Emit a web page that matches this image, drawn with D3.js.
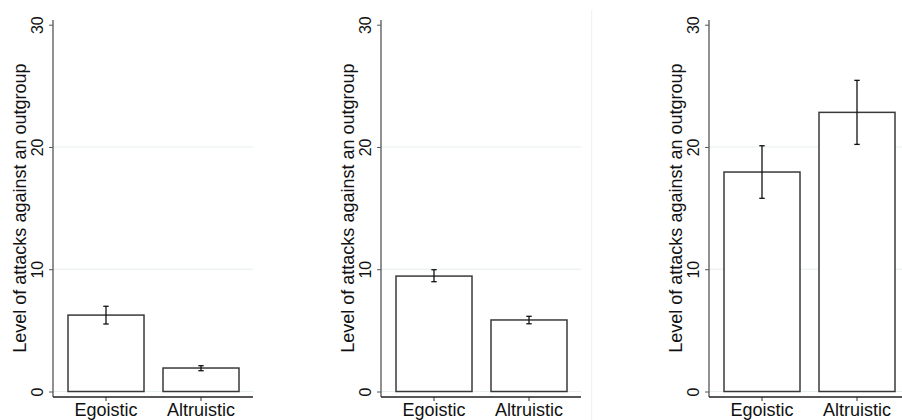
<!DOCTYPE html>
<html><head><meta charset="utf-8">
<script src="https://cdn.jsdelivr.net/npm/d3@7"></script>
<style>body{margin:0;background:#fff}svg{display:block}text{font-family:"Liberation Sans",Arial,Helvetica,sans-serif}</style>
</head><body>
<svg id="chart" width="902" height="420"></svg>
<script>
const categories = ["Egoistic", "Altruistic"];
const panel1Mean = [6.25, 1.92];
const panel1Low  = [5.52, 1.70];
const panel1High = [6.97, 2.11];
const panel2Mean = [9.44, 5.85];
const panel2Low  = [8.98, 5.54];
const panel2High = [9.96, 6.15];
const panel3Mean = [17.95, 22.83];
const panel3Low  = [15.80, 20.21];
const panel3High = [20.10, 25.45];
const yTicks = [0, 10, 20, 30];
const gridTicks = [0, 10, 20];
const yTitle = "Level of attacks against an outgroup";

const panels = [
  {mean: panel1Mean, low: panel1Low, high: panel1High},
  {mean: panel2Mean, low: panel2Low, high: panel2High},
  {mean: panel3Mean, low: panel3Low, high: panel3High}
];

const svg = d3.select("#chart");
const axisXs = [53, 381, 709];
const plotW = 200;
const y = d3.scaleLinear().domain([0, 30]).range([391.5, 24.7]);
const xAxisY = 397;

// faint separator
svg.append("line").attr("x1", 591.7).attr("x2", 591.7).attr("y1", 10).attr("y2", 420)
  .attr("stroke", "#eef0f0").attr("stroke-width", 1);

panels.forEach((p, i) => {
  const ax = axisXs[i];
  const g = svg.append("g");
  const x = d3.scaleBand().domain(categories).range([ax + 15, ax + 186]).paddingInner(0.2).paddingOuter(0);

  // gridlines
  g.selectAll("line.grid").data(gridTicks).join("line")
    .attr("x1", ax).attr("x2", ax + plotW)
    .attr("y1", d => y(d)).attr("y2", d => y(d))
    .attr("stroke", "#e6eeee").attr("stroke-width", 1);

  // bars
  g.selectAll("rect.bar").data(p.mean).join("rect")
    .attr("x", (d, j) => x(categories[j]))
    .attr("width", x.bandwidth())
    .attr("y", d => y(d))
    .attr("height", d => y(0) - y(d))
    .attr("fill", "#fff").attr("stroke", "#3a3a3a").attr("stroke-width", 1.5);

  // error bars
  const cap = 2.7;
  p.mean.forEach((m, j) => {
    const cx = x(categories[j]) + x.bandwidth() / 2;
    g.append("line").attr("x1", cx).attr("x2", cx).attr("y1", y(p.low[j])).attr("y2", y(p.high[j]))
      .attr("stroke", "#111").attr("stroke-width", 1.3);
    [p.low[j], p.high[j]].forEach(v => {
      g.append("line").attr("x1", cx - cap).attr("x2", cx + cap).attr("y1", y(v)).attr("y2", y(v))
        .attr("stroke", "#111").attr("stroke-width", 1.3);
    });
  });

  // y axis
  const yAxis = d3.axisLeft(y).tickValues(yTicks).tickSize(4).tickPadding(6).tickFormat(d3.format("d"));
  const ya = g.append("g").attr("transform", `translate(${ax},0)`).call(yAxis);
  ya.select(".domain").remove();
  ya.selectAll(".tick line").attr("stroke", "#555").attr("stroke-width", 1);
  ya.selectAll(".tick text")
    .attr("font-size", 16).attr("fill", "#111")
    .attr("text-anchor", "middle")
    .attr("x", null).attr("dy", null)
    .attr("transform", "translate(-10,0) rotate(-90)");
  g.append("line").attr("x1", ax).attr("x2", ax).attr("y1", 20).attr("y2", xAxisY)
    .attr("stroke", "#555").attr("stroke-width", 1.3);

  // x axis
  const xAxis = d3.axisBottom(x).tickSize(4).tickPadding(3);
  const xa = g.append("g").attr("transform", `translate(0,${xAxisY})`).call(xAxis);
  xa.select(".domain").remove();
  xa.selectAll(".tick line").attr("stroke", "#333");
  xa.selectAll(".tick text").attr("font-size", 18).attr("fill", "#111").attr("dy", null).attr("y", 19);
  g.append("line").attr("x1", ax).attr("x2", ax + plotW).attr("y1", xAxisY).attr("y2", xAxisY)
    .attr("stroke", "#222").attr("stroke-width", 1.3);

  // y title
  g.append("text")
    .attr("transform", `translate(${ax - 27.5},${(y(0) + y(30)) / 2}) rotate(-90)`)
    .attr("text-anchor", "middle")
    .attr("font-size", 18).attr("fill", "#111")
    .text(yTitle);
});
</script>
</body></html>
